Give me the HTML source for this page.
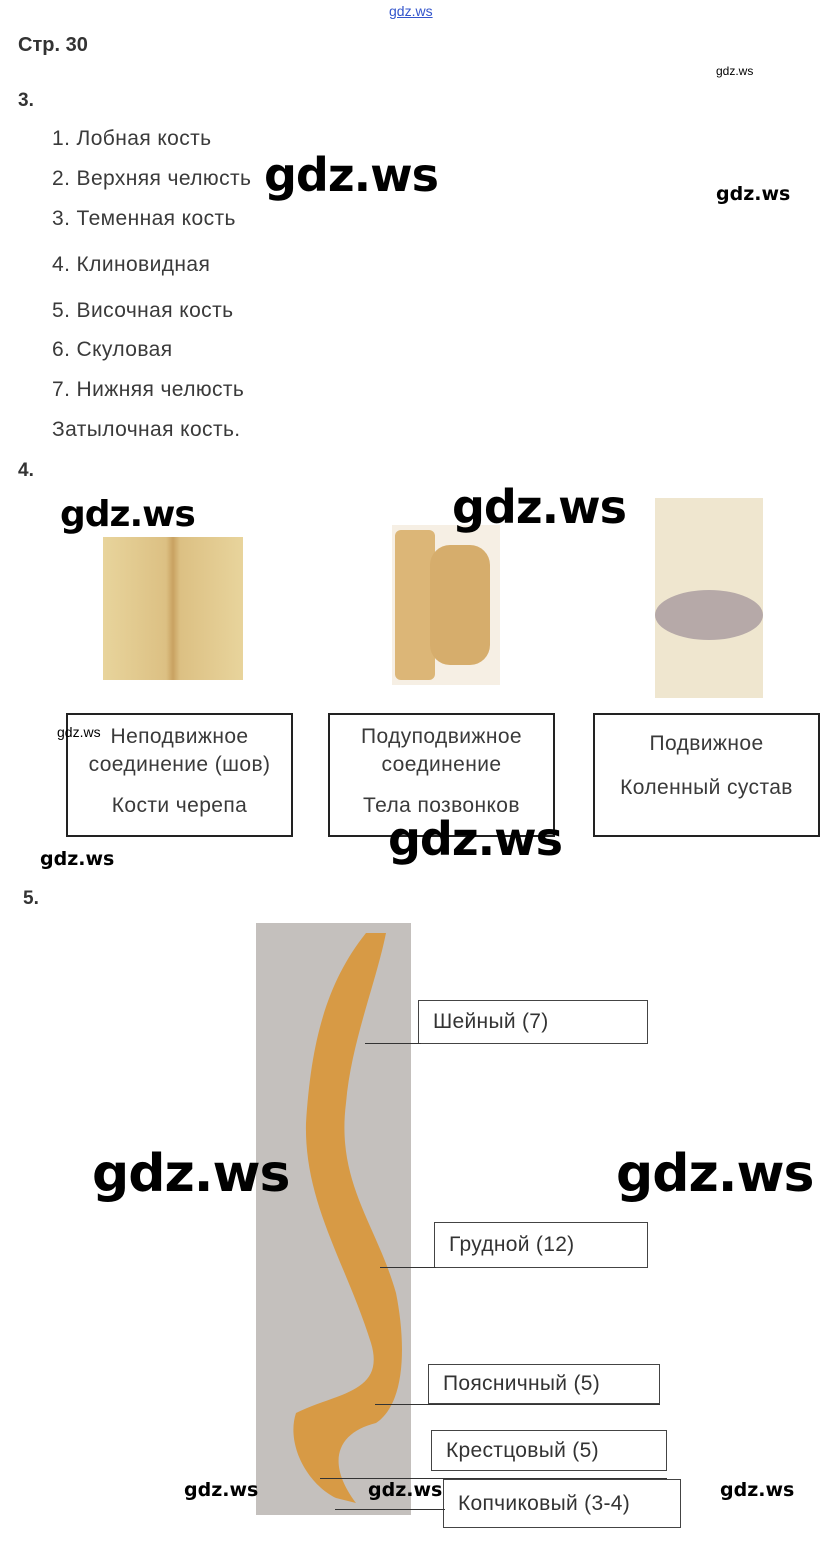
<!DOCTYPE html>
<html><head><meta charset="utf-8"><style>
body{margin:0;width:834px;height:1545px;background:#fff;position:relative;overflow:hidden;font-family:"Liberation Sans",sans-serif;color:#333}
.a{position:absolute;white-space:nowrap}
.t{font-size:21px;color:#3a3a3a;letter-spacing:0.4px}
.wm{font-family:"DejaVu Sans","Liberation Sans",sans-serif;font-weight:bold;color:#000;font-size:46px;letter-spacing:-1px}
.ws{font-family:"DejaVu Sans","Liberation Sans",sans-serif;font-weight:bold;color:#000;font-size:19px}
.box{position:absolute;border:2px solid #222;box-sizing:border-box}
.lb{position:absolute;border:1px solid #444;box-sizing:border-box;font-size:21px;letter-spacing:0.3px;color:#333;padding-left:14px;display:flex;align-items:center}
.ln{position:absolute;height:1px;background:#333}
</style></head><body>
<div class="a" style="left:389px;top:3px;font-size:14px;color:#3355cc;text-decoration:underline">gdz.ws</div>
<div class="a" style="left:18px;top:34px;font-size:20px;font-weight:bold;color:#333">Стр. 30</div>
<div class="a" style="left:716px;top:64px;font-size:12px;color:#000">gdz.ws</div>
<div class="a" style="left:18px;top:90px;font-size:19px;font-weight:bold">3.</div>
<div class="a t" style="left:52px;top:127px">1. Лобная кость</div>
<div class="a t" style="left:52px;top:167px">2. Верхняя челюсть</div>
<div class="a t" style="left:52px;top:207px">3. Теменная кость</div>
<div class="a t" style="left:52px;top:253px">4. Клиновидная</div>
<div class="a t" style="left:52px;top:299px">5. Височная кость</div>
<div class="a t" style="left:52px;top:338px">6. Скуловая</div>
<div class="a t" style="left:52px;top:378px">7. Нижняя челюсть</div>
<div class="a t" style="left:52px;top:418px">Затылочная кость.</div>
<div class="a wm" style="left:264px;top:148px">gdz.ws</div>
<div class="a ws" style="left:716px;top:183px">gdz.ws</div>
<div class="a" style="left:18px;top:460px;font-size:19px;font-weight:bold">4.</div>
<div class="a" style="left:103px;top:537px;width:140px;height:143px;background:linear-gradient(90deg,#e8d49c,#dcc083 45%,#c9a261 50%,#dcc083 55%,#e8d49c)"></div>
<div class="a" style="left:392px;top:525px;width:108px;height:160px;background:#f6efe4"></div>
<div class="a" style="left:395px;top:530px;width:40px;height:150px;background:#dcb677;border-radius:6px"></div>
<div class="a" style="left:430px;top:545px;width:60px;height:120px;background:#d6ad6c;border-radius:20px"></div>
<div class="a" style="left:655px;top:498px;width:108px;height:200px;background:#efe6cf"></div>
<div class="a" style="left:655px;top:590px;width:108px;height:50px;background:#b6a9a8;border-radius:50%"></div>
<div class="a wm" style="left:60px;top:494px;font-size:36px">gdz.ws</div>
<div class="a wm" style="left:452px;top:480px">gdz.ws</div>
<div class="box" style="left:66px;top:713px;width:227px;height:124px"></div>
<div class="box" style="left:328px;top:713px;width:227px;height:124px"></div>
<div class="box" style="left:593px;top:713px;width:227px;height:124px"></div>
<div class="a t" style="left:66px;width:227px;text-align:center;top:723px;line-height:28px;white-space:normal">Неподвижное<br>соединение (шов)</div>
<div class="a t" style="left:66px;width:227px;text-align:center;top:794px">Кости черепа</div>
<div class="a" style="left:57px;top:724px;font-size:14px;color:#000">gdz.ws</div>
<div class="a t" style="left:328px;width:227px;text-align:center;top:723px;line-height:28px;white-space:normal">Подуподвижное<br>соединение</div>
<div class="a t" style="left:328px;width:227px;text-align:center;top:794px">Тела позвонков</div>
<div class="a t" style="left:593px;width:227px;text-align:center;top:732px">Подвижное</div>
<div class="a t" style="left:593px;width:227px;text-align:center;top:776px">Коленный сустав</div>
<div class="a wm" style="left:388px;top:812px">gdz.ws</div>
<div class="a ws" style="left:40px;top:848px">gdz.ws</div>
<div class="a" style="left:23px;top:888px;font-size:19px;font-weight:bold">5.</div>
<div class="a" style="left:256px;top:923px;width:155px;height:592px;background:#c4c0bd"></div>
<svg class="a" style="left:256px;top:923px" width="155" height="592"><path d="M110 10 C70 60 55 120 50 200 C48 280 90 340 115 420 C130 470 80 470 40 490 C30 520 50 560 80 575 L100 580 C70 540 80 510 120 500 C150 480 150 420 140 370 C120 300 80 260 90 180 C95 120 120 60 130 10 Z" fill="#d79a45"/></svg>
<div class="a wm" style="left:92px;top:1144px;font-size:52px">gdz.ws</div>
<div class="a wm" style="left:616px;top:1144px;font-size:52px">gdz.ws</div>
<div class="lb" style="left:418px;top:1000px;width:230px;height:44px">Шейный (7)</div>
<div class="ln" style="left:365px;top:1043px;width:56px"></div>
<div class="lb" style="left:434px;top:1222px;width:214px;height:46px">Грудной (12)</div>
<div class="ln" style="left:380px;top:1267px;width:56px"></div>
<div class="lb" style="left:428px;top:1364px;width:232px;height:40px">Поясничный (5)</div>
<div class="ln" style="left:375px;top:1404px;width:285px"></div>
<div class="lb" style="left:431px;top:1430px;width:236px;height:41px">Крестцовый (5)</div>
<div class="ln" style="left:320px;top:1478px;width:347px"></div>
<div class="lb" style="left:443px;top:1479px;width:238px;height:49px">Копчиковый (3-4)</div>
<div class="ln" style="left:335px;top:1509px;width:110px"></div>
<div class="a ws" style="left:184px;top:1479px">gdz.ws</div>
<div class="a ws" style="left:368px;top:1479px">gdz.ws</div>
<div class="a ws" style="left:720px;top:1479px">gdz.ws</div>
</body></html>
